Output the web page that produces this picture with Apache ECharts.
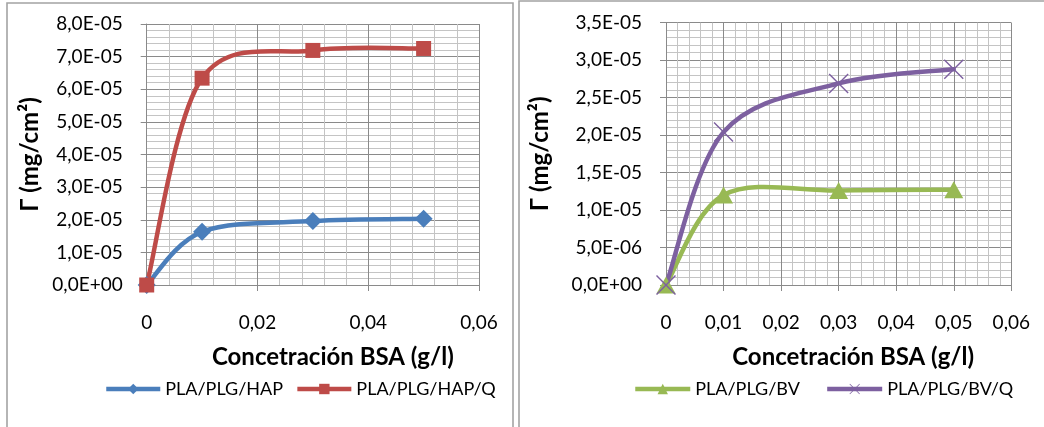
<!DOCTYPE html>
<html>
<head>
<meta charset="utf-8">
<script src="https://cdn.jsdelivr.net/npm/echarts@6/dist/echarts.min.js"></script>
<style>
  html, body { margin: 0; padding: 0; background: #fff; }
  #chart { width: 1044px; height: 427px; }
</style>
</head>
<body>
<div id="chart"></div>
<script>
// BSA concentration (g/l) at which adsorption was measured
const concentration = [0, 0.01, 0.03, 0.05];

// Adsorbed amount Γ (mg/cm²) for each membrane
const hap  = [0, 1.63e-5, 1.96e-5, 2.03e-5];
const hapQ = [0, 6.34e-5, 7.19e-5, 7.25e-5];
const bv   = [0, 1.20e-5, 1.26e-5, 1.27e-5];
const bvQ  = [0, 2.04e-5, 2.69e-5, 2.88e-5];

const seriesNames = ['PLA/PLG/HAP', 'PLA/PLG/HAP/Q', 'PLA/PLG/BV', 'PLA/PLG/BV/Q'];
const xTitle = 'Concetración BSA (g/l)';
const yTitle = 'Γ (mg/cm²)';

const FONT = 'Lato';
const MAJOR = '#8a8a8a';
const MINOR = '#c4c4c4';
const LINE_W = 4.5;

// Scientific label with decimal comma: 8,0E-05
function sci(v) {
  const s = Number(v).toExponential(1);
  const [m, e] = s.split('e');
  const n = parseInt(e, 10);
  const exp = (n < 0 ? '-' : '+') + String(Math.abs(n)).padStart(2, '0');
  return m.replace('.', ',') + 'E' + exp;
}
function dec(v) {
  return v === 0 ? '0' : Number(v).toFixed(2).replace('.', ',');
}
function pairs(ys) {
  return concentration.map((c, i) => [c, ys[i]]);
}

const chart = echarts.init(document.getElementById('chart'));

const grids = [
  { left: 146.7, top: 24, width: 332.3, height: 261 },
  { left: 666, top: 22.7, width: 345.3, height: 262.3 }
];

function xAxis(gridIndex, interval, namePad) {
  return {
    type: 'value', gridIndex, min: 0, max: 0.06, interval,
    name: xTitle, nameLocation: 'middle', nameGap: 60,
    nameTextStyle: { fontFamily: FONT, fontWeight: 'bold', fontSize: 24, color: '#000', padding: [0, 0, 0, namePad] },
    axisLine: { show: true, lineStyle: { color: MAJOR, width: 1 } },
    axisTick: { show: true, length: 6, lineStyle: { color: MAJOR } },
    axisLabel: { margin: 28, fontFamily: FONT, fontSize: 19, color: '#000', formatter: dec },
    splitLine: { show: true, lineStyle: { color: MAJOR, width: 1 } },
    minorTick: { show: false, splitNumber: 5 },
    minorSplitLine: { show: true, lineStyle: { color: MINOR, width: 1 } }
  };
}
function yAxis(gridIndex, max, interval, gap) {
  return {
    type: 'value', gridIndex, min: 0, max, interval,
    name: yTitle, nameLocation: 'middle', nameGap: gap, nameRotate: 90,
    nameTextStyle: { fontFamily: FONT, fontWeight: 'bold', fontSize: 24, color: '#000' },
    axisLine: { show: true, lineStyle: { color: MAJOR, width: 1 } },
    axisTick: { show: true, length: 6, lineStyle: { color: MAJOR } },
    axisLabel: { margin: 24, fontFamily: FONT, fontSize: 19, color: '#000', formatter: sci },
    splitLine: { show: true, lineStyle: { color: MAJOR, width: 1 } },
    minorTick: { show: false, splitNumber: 5 },
    minorSplitLine: { show: true, lineStyle: { color: MINOR, width: 1 } }
  };
}

// thin "x" cross marker
const CROSS = 'path://M0,1L1,0L10,9L19,0L20,1L11,10L20,19L19,20L10,11L1,20L0,19L9,10Z';

// Smoothed curve through the points: cubic Bezier segments whose control
// points follow the neighbouring points (Catmull-Rom style, tension 1/6).
function smoothCurve(ys, idx, color) {
  return {
    type: 'custom', xAxisIndex: idx, yAxisIndex: idx,
    data: pairs(ys), clip: false, silent: true, z: 2,
    renderItem(params, api) {
      if (params.dataIndex !== 0) return null;
      const p = concentration.map((c, i) => api.coord([c, ys[i]]));
      const n = p.length;
      let d = 'M' + p[0][0] + ',' + p[0][1];
      for (let i = 0; i < n - 1; i++) {
        const a = p[Math.max(i - 1, 0)], b = p[i], c = p[i + 1], e = p[Math.min(i + 2, n - 1)];
        const c1x = b[0] + (c[0] - a[0]) / 6, c1y = b[1] + (c[1] - a[1]) / 6;
        const c2x = c[0] - (e[0] - b[0]) / 6, c2y = c[1] - (e[1] - b[1]) / 6;
        d += 'C' + c1x + ',' + c1y + ',' + c2x + ',' + c2y + ',' + c[0] + ',' + c[1];
      }
      return {
        type: 'path',
        shape: { pathData: d },
        style: { fill: 'none', stroke: color, lineWidth: LINE_W, lineJoin: 'round', lineCap: 'round' }
      };
    }
  };
}

// Markers of one series (its line is drawn by smoothCurve)
function markers(name, ys, idx, color, symbol, size) {
  return {
    name, type: 'line', xAxisIndex: idx, yAxisIndex: idx,
    data: pairs(ys), clip: false,
    symbol, symbolSize: size, showSymbol: true,
    lineStyle: { color, width: LINE_W, opacity: 0 },
    itemStyle: { color },
    emphasis: { disabled: true },
    z: 3
  };
}

const legendText = { fontFamily: FONT, fontSize: 18, color: '#000' };
const legendLine = { width: LINE_W, opacity: 1 };

chart.setOption({
  animation: false,
  backgroundColor: '#fff',
  grid: grids,
  xAxis: [xAxis(0, 0.02, 40), xAxis(1, 0.01, 29)],
  yAxis: [yAxis(0, 8e-5, 1e-5, 104), yAxis(1, 3.5e-5, 5e-6, 114)],
  legend: [
    { data: [seriesNames[0], seriesNames[1]], left: 104, top: 380, padding: 0,
      itemWidth: 54, itemHeight: 13, itemGap: 12, textStyle: legendText, lineStyle: legendLine },
    { data: [seriesNames[2], seriesNames[3]], left: 633, top: 380, padding: 0,
      itemWidth: 55, itemHeight: 13, itemGap: 25, textStyle: legendText, lineStyle: legendLine }
  ],
  series: [
    smoothCurve(hap, 0, '#4a7ebb'),
    markers(seriesNames[0], hap, 0, '#4a7ebb', 'diamond', 18),
    smoothCurve(hapQ, 0, '#be4b48'),
    markers(seriesNames[1], hapQ, 0, '#be4b48', 'rect', 15),
    smoothCurve(bv, 1, '#98b954'),
    markers(seriesNames[2], bv, 1, '#98b954', 'triangle', [19, 17]),
    smoothCurve(bvQ, 1, '#7d60a0'),
    markers(seriesNames[3], bvQ, 1, '#7d60a0', CROSS, 20)
  ],
  graphic: [
    { type: 'rect', shape: { x: 7, y: 3, width: 506, height: 430 },
      style: { fill: 'none', stroke: '#a3a3a3', lineWidth: 1.6 }, silent: true },
    { type: 'rect', shape: { x: 519, y: 1, width: 540, height: 440 },
      style: { fill: 'none', stroke: '#a3a3a3', lineWidth: 1.6 }, silent: true }
  ]
});
</script>
</body>
</html>
